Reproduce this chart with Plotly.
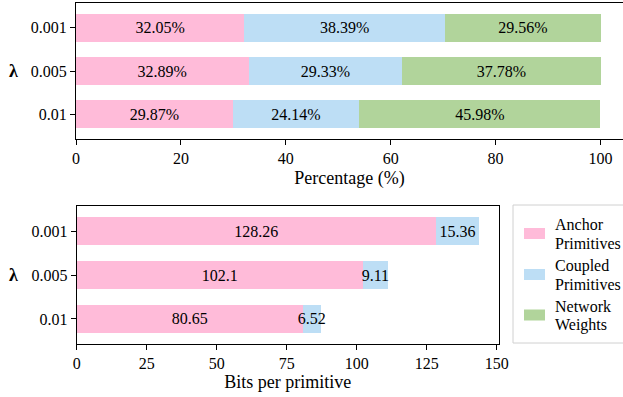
import plotly.graph_objects as go

lambdas = ["0.01", "0.005", "0.001"]  # bottom to top
legend_lines = [("Anchor", "Primitives"), ("Coupled", "Primitives"), ("Network", "Weights")]
series_names = ["Anchor Primitives", "Coupled Primitives", "Network Weights"]
colors = ["#FFBBD9", "#BDDEF5", "#B1D49B"]

pct_anchor = [29.87, 32.89, 32.05]
pct_coupled = [24.14, 29.33, 38.39]
pct_network = [45.98, 37.78, 29.56]

bits_anchor = [80.65, 102.1, 128.26]
bits_coupled = [6.52, 9.11, 15.36]

W, H = 623, 397
FONT = "Liberation Serif"
FS = 16
FT = 18

fig = go.Figure()

for name, vals, col in zip(series_names, [pct_anchor, pct_coupled, pct_network], colors):
    fig.add_trace(go.Bar(
        y=lambdas, x=vals, orientation="h", name=name,
        marker=dict(color=col, line=dict(width=0)),
        text=[f"{v:.2f}%" for v in vals], textposition="inside",
        insidetextanchor="middle", textangle=0, constraintext="none",
        textfont=dict(family=FONT, size=FS, color="black"),
        xaxis="x", yaxis="y", showlegend=False, hoverinfo="skip",
    ))

for name, vals, col in zip(series_names[:2], [bits_anchor, bits_coupled], colors[:2]):
    fig.add_trace(go.Bar(
        y=lambdas, x=vals, orientation="h", name=name,
        marker=dict(color=col, line=dict(width=0)),
        text=[f"{v}" for v in vals], textposition="inside",
        insidetextanchor="middle", textangle=0, constraintext="none",
        textfont=dict(family=FONT, size=FS, color="black"),
        xaxis="x2", yaxis="y2", showlegend=False, hoverinfo="skip",
    ))

axis_common = dict(
    showgrid=False, zeroline=False, ticks="outside", ticklen=5, tickwidth=1,
    tickcolor="black", linecolor="black", linewidth=1, showline=True,
    tickfont=dict(family=FONT, size=FS, color="black"), automargin=False,
)

# manual legend (box, patches, labels) in paper coordinates
shapes = [dict(type="rect", xref="paper", yref="paper",
               x0=513 / W, x1=1.02, y0=1 - 343 / H, y1=1 - 205 / H,
               line=dict(color="#d0d0d0", width=1), fillcolor="white", layer="above")]
annotations = []
leg_y = [233.5, 274.5, 315]
for lines, col, yc in zip(legend_lines, colors, leg_y):
    shapes.append(dict(type="rect", xref="paper", yref="paper",
                       x0=524 / W, x1=545 / W, y0=1 - (yc + 5.5) / H, y1=1 - (yc - 5.5) / H,
                       line=dict(width=0), fillcolor=col, layer="above"))
    for line, dy in zip(lines, [-9.0, 10.0]):
        annotations.append(dict(text=line, xref="paper", yref="paper", x=553 / W, y=1 - (yc + dy) / H,
                                xanchor="left", yanchor="middle", align="left", showarrow=False,
                                font=dict(family=FONT, size=FS, color="black")))

for yc in [71, 275]:
    annotations.append(dict(text="<b>λ</b>", xref="paper", yref="paper", x=13 / W, y=1 - yc / H,
                            showarrow=False, xanchor="center", yanchor="middle",
                            font=dict(family=FONT, size=FT, color="black")))

fig.update_layout(
    width=W, height=H,
    margin=dict(l=0, r=0, t=0, b=0, autoexpand=False),
    paper_bgcolor="white", plot_bgcolor="white",
    barmode="stack", bargap=0.35, showlegend=False,
    font=dict(family=FONT, size=FS, color="black"),
    xaxis=dict(axis_common, domain=[76 / W, 1.0], range=[0, 104.29], mirror=True,
               tickvals=[0, 20, 40, 60, 80, 100], anchor="y",
               title=dict(text="Percentage (%)", font=dict(family=FONT, size=FT), standoff=5)),
    yaxis=dict(axis_common, domain=[(H - 139) / H, (H - 3) / H], range=[-0.57, 2.57],
               type="category", mirror=False, anchor="x"),
    xaxis2=dict(axis_common, domain=[76.7 / W, 499 / W], range=[0, 150.8], mirror=True,
                tickvals=[0, 25, 50, 75, 100, 125, 150], anchor="y2",
                title=dict(text="Bits per primitive", font=dict(family=FONT, size=FT), standoff=0)),
    yaxis2=dict(axis_common, domain=[(H - 344) / H, (H - 206) / H], range=[-0.57, 2.57],
                type="category", mirror=True, anchor="x2"),
    shapes=shapes,
    annotations=annotations,
)

fig.write_html("out.html")
